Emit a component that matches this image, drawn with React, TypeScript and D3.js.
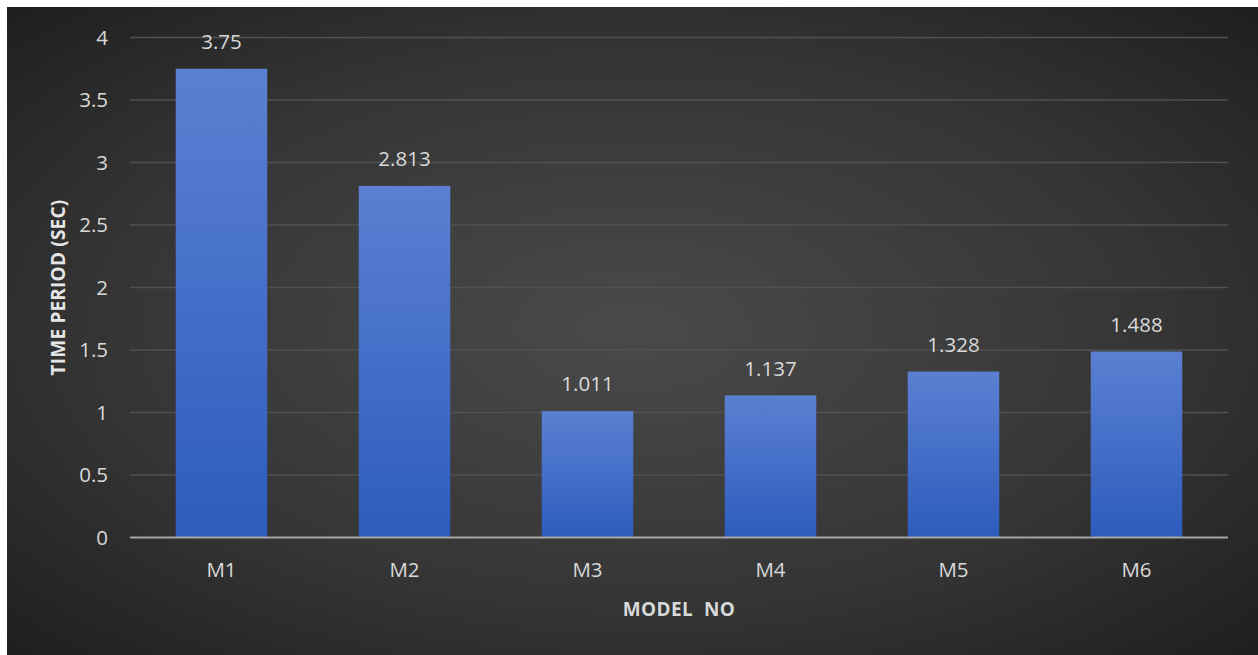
import React from "react";
import * as d3 from "d3";

const categories = ["M1", "M2", "M3", "M4", "M5", "M6"];
const timePeriod = [3.75, 2.813, 1.011, 1.137, 1.328, 1.488];
const yTicks = [0, 0.5, 1, 1.5, 2, 2.5, 3, 3.5, 4];
const xTitle = "MODEL  NO";
const yTitle = "TIME PERIOD (SEC)";

const W = 1258;
const H = 655;
const plot = { left: 130, right: 1228, top: 37.5, bottom: 537.5 };
const FONT = "'Open Sans', 'Noto Sans', sans-serif";
const LABEL_SIZE = 20.5;

export default function App() {
  const x = d3
    .scaleBand<string>()
    .domain(categories)
    .range([plot.left, plot.right])
    .paddingInner(0.5)
    .paddingOuter(0.25);
  const y = d3.scaleLinear().domain([0, 4]).range([plot.bottom, plot.top]);

  return (
    <svg
      width={W}
      height={H}
      style={{ position: "absolute", left: 0, top: 0 }}
    >
      <defs>
        <radialGradient id="bg" cx="50%" cy="50%" r="70%">
          <stop offset="0%" stopColor="#4a4a4a" />
          <stop offset="60%" stopColor="#353535" />
          <stop offset="100%" stopColor="#1f1f1f" />
        </radialGradient>
        <linearGradient id="bar" x1="0" y1="0" x2="0" y2="1">
          <stop offset="0%" stopColor="#5b80d2" />
          <stop offset="100%" stopColor="#2d5cbd" />
        </linearGradient>
      </defs>
      <rect x={0} y={0} width={W} height={H} fill="#ffffff" />
      <rect x={7} y={7} width={W - 7} height={H - 7} fill="url(#bg)" />

      {yTicks.map((t) =>
        t === 0 ? null : (
          <line
            key={`g${t}`}
            x1={plot.left}
            x2={plot.right}
            y1={y(t)}
            y2={y(t)}
            stroke="#515151"
            strokeWidth={1.5}
          />
        )
      )}

      {categories.map((c, i) => (
        <rect
          key={c}
          x={x(c)}
          y={y(timePeriod[i])}
          width={x.bandwidth()}
          height={y(0) - y(timePeriod[i])}
          fill="url(#bar)"
        />
      ))}

      <line
        x1={plot.left}
        x2={plot.right}
        y1={y(0)}
        y2={y(0)}
        stroke="#a6a6a6"
        strokeWidth={2}
      />

      {yTicks.map((t) => (
        <text
          key={`t${t}`}
          x={108}
          y={y(t)}
          dy="0.35em"
          textAnchor="end"
          fill="#d9d9d9"
          fontFamily={FONT}
          fontSize={LABEL_SIZE}
        >
          {String(t)}
        </text>
      ))}

      {categories.map((c) => (
        <text
          key={`x${c}`}
          x={(x(c) as number) + x.bandwidth() / 2}
          y={570}
          dy="0.35em"
          textAnchor="middle"
          fill="#d9d9d9"
          fontFamily={FONT}
          fontSize={LABEL_SIZE}
        >
          {c}
        </text>
      ))}

      {categories.map((c, i) => (
        <text
          key={`l${c}`}
          x={(x(c) as number) + x.bandwidth() / 2}
          y={y(timePeriod[i]) - 27}
          dy="0.35em"
          textAnchor="middle"
          fill="#d9d9d9"
          fontFamily={FONT}
          fontSize={LABEL_SIZE}
        >
          {String(timePeriod[i])}
        </text>
      ))}

      <text
        x={(plot.left + plot.right) / 2}
        y={609}
        dy="0.35em"
        textAnchor="middle"
        fill="#d9d9d9"
        fontFamily={FONT}
        fontWeight="bold"
        fontSize={19}
        letterSpacing={0.4}
        style={{ whiteSpace: "pre" }}
      >
        {xTitle}
      </text>
      <text
        transform={`translate(58,${(plot.top + plot.bottom) / 2}) rotate(-90)`}
        dy="0.35em"
        textAnchor="middle"
        fill="#e6e6e6"
        fontFamily={FONT}
        fontWeight="bold"
        fontSize={19}
        letterSpacing={0.2}
      >
        {yTitle}
      </text>
    </svg>
  );
}
